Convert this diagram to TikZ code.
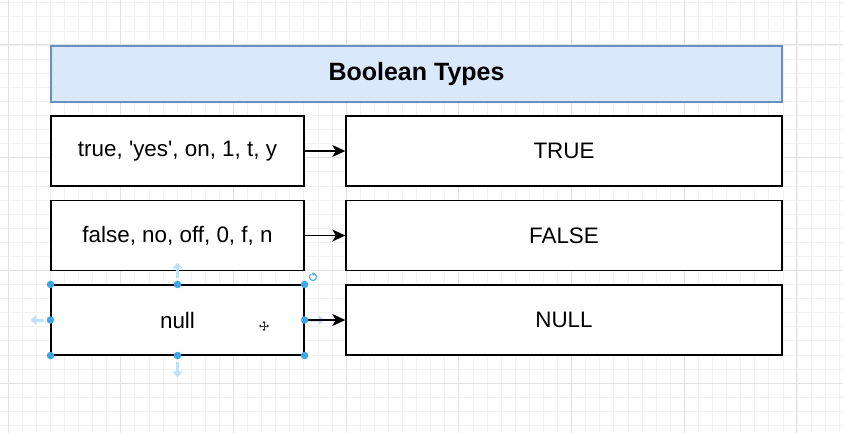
\documentclass[tikz,border=0pt]{standalone}
\usepackage{fontspec}
\setmainfont{Liberation Sans}
\usetikzlibrary{arrows.meta}
\definecolor{titlefill}{HTML}{DAE8FC}
\definecolor{titleline}{HTML}{6C8EBF}
\definecolor{gridminor}{HTML}{F2F2F2}
\definecolor{gridmajor}{HTML}{E2E2E2}
\definecolor{handle}{HTML}{3CA6E8}
\definecolor{handlelight}{HTML}{BFE0F7}
\tikzset{
  box/.style={draw=black, line width=1.4pt, fill=white, minimum height=70pt, inner sep=0pt, font=\fontsize{22.4}{26}\selectfont},
  leftbox/.style={box, minimum width=253pt},
  rightbox/.style={box, minimum width=436pt},
  titlebox/.style={draw=titleline, line width=1.2pt, fill=titlefill, minimum width=731pt, minimum height=56pt, inner sep=0pt, font=\bfseries\fontsize{25}{28}\selectfont},
  conn/.style={line width=1.4pt, -{Stealth[length=13pt, width=12pt, inset=3.5pt]}},
  hdot/.style={circle, fill=handle, inner sep=0pt, minimum size=7.5pt},
  harrow/.style={handlelight, line width=3pt, -{Triangle[length=6pt, width=10pt]}}
}
\begin{document}
\begin{tikzpicture}[x=1pt, y=-1pt]
\useasboundingbox (0,0) rectangle (843,433);
\fill[white] (0,0) rectangle (843,433);
% grid
\foreach \i in {0,...,60} {
  \draw[gridminor, line width=0.8pt] ({8+\i*14.09},0) -- ({8+\i*14.09},433);
}
\foreach \j in {-4,...,31} {
  \draw[gridminor, line width=0.8pt] (0,{45+\j*14.09}) -- (843,{45+\j*14.09});
}
\foreach \i in {0,...,7} {
  \draw[gridmajor, line width=1pt] ({8+\i*112.7},0) -- ({8+\i*112.7},433);
}
\foreach \j in {0,...,3} {
  \draw[gridmajor, line width=1pt] (0,{45+\j*112.7}) -- (843,{45+\j*112.7});
}
% title
\node[titlebox] (title) at (416.5,74) {Boolean Types};
% rows
\node[leftbox] (l1) at (177.5,151) {true, \textquotesingle yes\textquotesingle, on, 1, t, y};
\node[rightbox] (r1) at (564,151) {TRUE};
\node[leftbox] (l2) at (177.5,235.5) {false, no, off, 0, f, n};
\node[rightbox] (r2) at (564,235.5) {FALSE};
\node[leftbox, line width=1.1pt] (l3) at (177.5,320) {null};
\node[rightbox] (r3) at (564,320) {NULL};
% selection handles
\draw[harrow] (l3.north) ++(0,-6) -- ++(0,-16);
\draw[harrow] (l3.south) ++(0,6) -- ++(0,16);
\draw[harrow] (l3.west) ++(-6,0) -- ++(-14,0);
\draw[harrow] (l3.east) ++(6,0) -- ++(14,0);
\draw[conn] (l1.east) -- (r1.west);
\draw[conn] (l2.east) -- (r2.west);
\draw[conn] (l3.east) -- (r3.west);
\foreach \a in {north west, north, north east, west, east, south west, south, south east} {
  \node[hdot] at (l3.\a) {};
}
\coordinate (rot) at (313,277);
\draw[handle, line width=1pt] (rot) ++(60:3.5pt) arc[start angle=60, end angle=-240, radius=3.5pt];
\fill[handle] (rot) ++(-1,-4.5) -- ++(3,1) -- ++(-2,2.5) -- cycle;
% cursor
\coordinate (cur) at (264,326);
\draw[black!80, line width=0.8pt, {Triangle[length=2pt,width=3pt]}-{Triangle[length=2pt,width=3pt]}] (cur) ++(-5,0) -- ++(10,0);
\draw[black!80, line width=0.8pt, {Triangle[length=2pt,width=3pt]}-{Triangle[length=2pt,width=3pt]}] (cur) ++(0,-5) -- ++(0,10);
\end{tikzpicture}
\end{document}
